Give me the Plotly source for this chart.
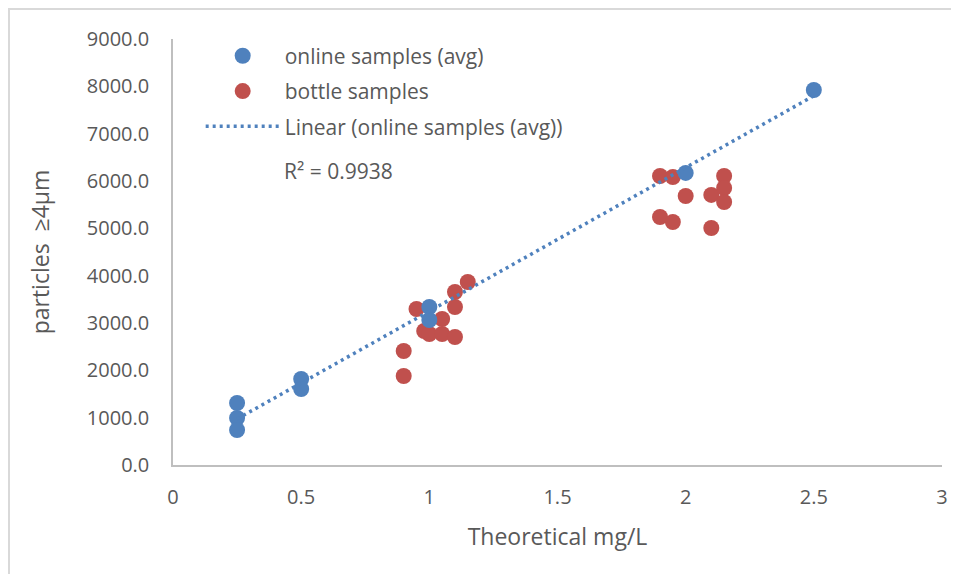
import numpy as np
import plotly.graph_objects as go

# Data
online_x = [0.25, 0.25, 0.25, 0.5, 0.5, 1.0, 1.0, 2.0, 2.5]
online_y = [1310, 993, 740, 1817, 1606, 3338, 3064, 6170, 7923]

bottle_x = [0.9, 0.9, 0.95, 0.98, 1.0, 1.05, 1.05, 1.1, 1.1, 1.1, 1.15,
            1.9, 1.9, 1.95, 1.95, 2.0, 2.1, 2.1, 2.15, 2.15, 2.15]
bottle_y = [1880, 2409, 3296, 2831, 2768, 3085, 2768, 3655, 3338, 2704, 3866,
            6106, 5240, 6085, 5134, 5683, 5705, 5007, 6106, 5852, 5557]

x_ticks = [0, 0.5, 1, 1.5, 2, 2.5, 3]
y_ticks = [0, 1000, 2000, 3000, 4000, 5000, 6000, 7000, 8000, 9000]
r2_text = "R² = 0.9938"

BLUE = "#4F81BD"
RED = "#C0504D"
TXT = "#595959"
FONT = "Open Sans"

# Linear trendline through the online samples
slope, intercept = np.polyfit(online_x, online_y, 1)
tx = np.array([min(online_x), max(online_x)])
ty = slope * tx + intercept

fig = go.Figure()
fig.add_trace(go.Scatter(x=bottle_x, y=bottle_y, mode="markers", name="bottle samples",
                         legendrank=2, legendgroup="b", marker=dict(color=RED, size=16)))
fig.add_trace(go.Scatter(x=online_x, y=online_y, mode="markers", name="online samples (avg)",
                         legendrank=1, legendgroup="a", marker=dict(color=BLUE, size=16)))
fig.add_trace(go.Scatter(x=tx, y=ty, mode="lines", name="Linear (online samples (avg))",
                         legendrank=3, legendgroup="c",
                         line=dict(color=BLUE, width=3.5, dash="3px,4px")))

fig.add_annotation(x=0.425, y=6212, xref="x", yref="y", text=r2_text, showarrow=False,
                   xanchor="left", yanchor="middle", font=dict(family=FONT, size=21, color=TXT))

# figure geometry (page has an 8px body margin)
W, H = 943, 566
L, R, T, B = 165, 9, 31, 109
pw, ph = W - L - R, H - T - B
# outer chart border (only top/left edges visible in the window)
fig.add_shape(type="rect", xref="paper", yref="paper",
              x0=(1 - L) / pw, x1=(W + 40 - L) / pw,
              y0=(H - B - (H + 40)) / ph, y1=(H - B - 1) / ph,
              line=dict(color="#D9D9D9", width=2), fillcolor="rgba(0,0,0,0)", layer="below")

fig.update_layout(
    width=W, height=H,
    margin=dict(l=L, r=R, t=T, b=B, autoexpand=False),
    paper_bgcolor="white", plot_bgcolor="white",
    font=dict(family=FONT, color=TXT),
    showlegend=True,
    legend=dict(x=0.036, y=1.008, xanchor="left", yanchor="top", itemwidth=74,
                font=dict(family=FONT, size=21, color=TXT),
                bgcolor="rgba(0,0,0,0)", traceorder="grouped", tracegroupgap=5),
    xaxis=dict(range=[0, 3], tickvals=x_ticks, ticktext=[str(v) for v in x_ticks],
               automargin=False,
               showgrid=False, zeroline=False, showline=True, linecolor="#BFBFBF", linewidth=1.5,
               ticks="", ticklabelstandoff=13, tickfont=dict(size=20, color=TXT),
               title=dict(text="Theoretical mg/L", font=dict(size=23, color=TXT), standoff=20)),
    yaxis=dict(range=[0, 9000], tickvals=y_ticks, tickformat=".1f",
               automargin=False,
               showgrid=False, zeroline=False, showline=True, linecolor="#BFBFBF", linewidth=1.5,
               ticks="", ticklabelstandoff=18, tickfont=dict(size=20, color=TXT),
               title=dict(text="particles \u00a0≥4µm", font=dict(size=23, color=TXT), standoff=31)),
)

fig.write_html("out.html")
